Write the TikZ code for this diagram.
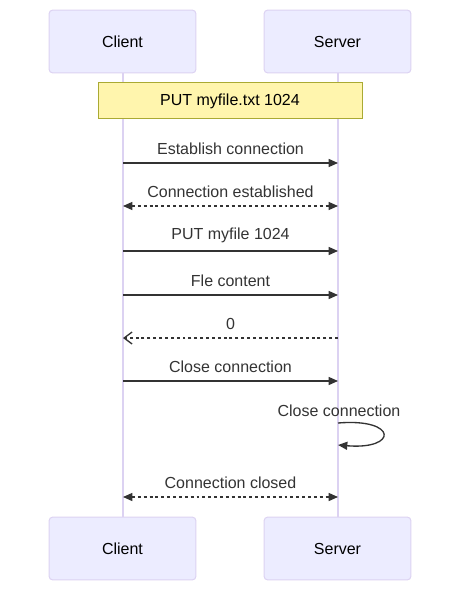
\documentclass[tikz,border=0pt]{standalone}
\usepackage{fontspec}
\setmainfont{Liberation Sans}
\usetikzlibrary{arrows.meta}

\definecolor{actorfill}{HTML}{ECECFF}
\definecolor{actorline}{HTML}{DCD2F2}
\definecolor{notefill}{HTML}{FFF5AD}
\definecolor{noteline}{HTML}{AAAA33}
\definecolor{msgcol}{HTML}{333333}

\begin{document}
\begin{tikzpicture}[x=0.75pt, y=-0.75pt,
    actor/.style={draw=actorline, fill=actorfill, rounded corners=2.5pt, line width=0.75pt,
        minimum width=110pt, minimum height=47pt, font=\fontsize{12}{14}\selectfont},
    note/.style={draw=noteline, fill=notefill, line width=0.75pt,
        minimum width=198pt, minimum height=27pt, font=\fontsize{12}{14}\selectfont},
    lifeline/.style={draw=actorline, line width=1.5pt},
    msg/.style={draw=msgcol, line width=1pt, -{Triangle[length=7pt,width=6pt]}},
    reply/.style={msg, dash pattern=on 2.2pt off 2.2pt},
    both/.style={reply, {Triangle[length=7pt,width=6pt]}-{Triangle[length=7pt,width=6pt]}},
    async/.style={draw=msgcol, line width=1pt, dash pattern=on 2.2pt off 2.2pt,
        -{Straight Barb[length=6pt,width=9pt,line width=1pt]}},
    lbl/.style={text=msgcol, font=\fontsize{12}{14}\selectfont, inner sep=0pt}]

    \useasboundingbox (0,0) rectangle (470,602);

    % Actors
    \node[actor] (clientTop) at (122.5,41.5) {Client};
    \node[actor] (serverTop) at (337.5,41.5) {Server};
    \node[actor] (clientBot) at (122.5,548.5) {Client};
    \node[actor] (serverBot) at (337.5,548.5) {Server};

    % Lifelines
    \draw[lifeline] (clientTop.south) -- (clientBot.north);
    \draw[lifeline] (serverTop.south) -- (serverBot.north);

    % Note over both
    \node[note] (putNote) at (230,101) {PUT myfile.txt 1024};

    % Message anchors on the lifelines
    \foreach \i/\y in {1/163, 2/206, 3/251, 4/295, 5/338, 6/381, 7/497} {
        \coordinate (c\i) at (123,\y);
        \coordinate (s\i) at (338,\y);
    }

    % Messages
    \draw[msg] (c1) -- (s1) node[lbl, midway, above=6pt] (m1) {Establish connection};
    \draw[both] (c2) -- (s2) node[lbl, midway, above=6pt] (m2) {Connection established};
    \draw[msg] (c3) -- (s3) node[lbl, midway, above=6pt] (m3) {PUT myfile 1024};
    \draw[msg] (c4) -- (s4) node[lbl, midway, above=6pt] (m4) {Fle content};
    \draw[async] (s5) -- (c5) node[lbl, midway, above=6pt] (m5) {0};
    \draw[msg] (c6) -- (s6) node[lbl, midway, above=6pt] (m6) {Close connection};

    % Self message on the server
    \coordinate (selfA) at (338,423);
    \coordinate (selfB) at (338,445);
    \node[lbl] (m8) at (339,411) {Close connection};
    \draw[msg] (selfA) .. controls (398,418) and (398,450) .. (selfB);

    \draw[both] (c7) -- (s7) node[lbl, midway, above=6pt] (m7) {Connection closed};

\end{tikzpicture}
\end{document}
